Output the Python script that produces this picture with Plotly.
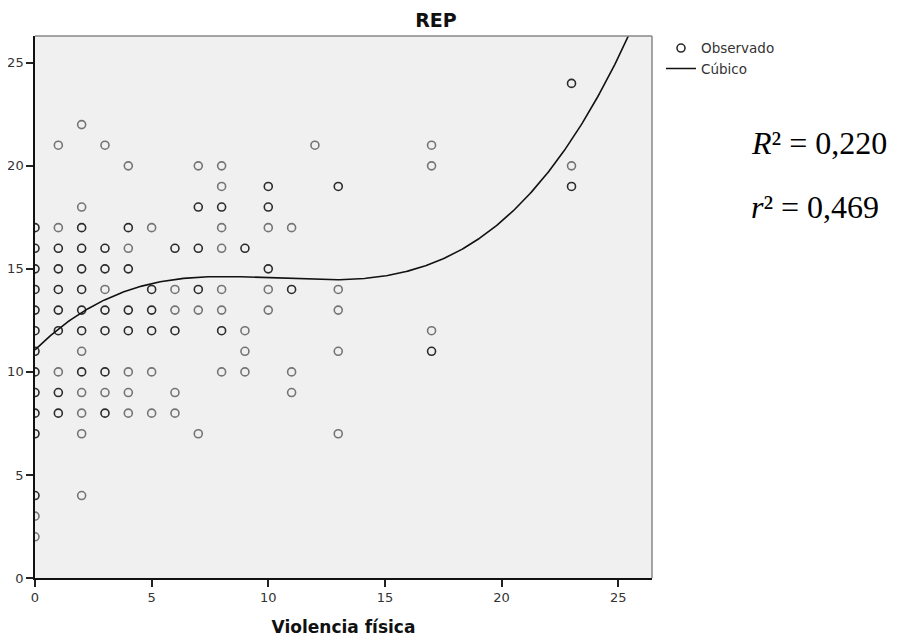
import numpy as np
import plotly.graph_objects as go

# Observed points (Violencia física, REP); n = overlap weight (darker when >1)
x_obs = [23,
         2,
         1, 3, 12, 17,
         4, 7, 8, 17, 23,
         8, 10, 13, 23,
         2, 7, 8, 10,
         0, 1, 2, 4, 5, 8, 10, 11,
         0, 1, 2, 3, 4, 6, 7, 8, 9,
         0, 1, 2, 3, 4, 10,
         0, 1, 2, 3, 5, 6, 7, 8, 10, 11, 13,
         0, 1, 2, 3, 4, 5, 6, 7, 8, 10, 13,
         0, 1, 2, 3, 4, 5, 6, 8, 9, 17,
         0, 2, 9, 13, 17,
         0, 1, 2, 3, 4, 5, 8, 9, 11,
         0, 1, 2, 3, 4, 6, 11,
         0, 1, 2, 3, 4, 5, 6,
         0, 2, 7, 13,
         0, 2,
         0,
         0]
y_obs = [24,
         22,
         21, 21, 21, 21,
         20, 20, 20, 20, 20,
         19, 19, 19, 19,
         18, 18, 18, 18,
         17, 17, 17, 17, 17, 17, 17, 17,
         16, 16, 16, 16, 16, 16, 16, 16, 16,
         15, 15, 15, 15, 15, 15,
         14, 14, 14, 14, 14, 14, 14, 14, 14, 14, 14,
         13, 13, 13, 13, 13, 13, 13, 13, 13, 13, 13,
         12, 12, 12, 12, 12, 12, 12, 12, 12, 12,
         11, 11, 11, 11, 11,
         10, 10, 10, 10, 10, 10, 10, 10, 10,
         9, 9, 9, 9, 9, 9, 9,
         8, 8, 8, 8, 8, 8, 8,
         7, 7, 7, 7,
         4, 4,
         3,
         2]
n_obs = [2,
         1,
         1, 1, 1, 1,
         1, 1, 1, 1, 1,
         1, 2, 2, 2,
         1, 2, 2, 2,
         2, 1, 2, 2, 1, 1, 1, 1,
         2, 2, 2, 2, 1, 2, 2, 1, 2,
         2, 2, 2, 2, 2, 2,
         2, 2, 2, 1, 2, 1, 2, 1, 1, 2, 1,
         2, 2, 2, 2, 2, 2, 1, 1, 1, 1, 1,
         2, 2, 2, 2, 2, 2, 2, 2, 1, 1,
         2, 1, 1, 1, 2,
         2, 1, 2, 2, 1, 1, 1, 1, 1,
         2, 2, 1, 1, 1, 1, 1,
         2, 2, 1, 2, 1, 1, 1,
         2, 1, 1, 1,
         2, 1,
         1,
         1]

# Cubic fit coefficients (b0, b1, b2, b3)
cubic_coef = [11.07, 1.11877, -0.11347, 0.0036561]

x_ticks = [0, 5, 10, 15, 20, 25]
y_ticks = [0, 5, 10, 15, 20, 25]
stats_text = ["<i>R</i>² = 0,220", "<i>r</i>² = 0,469"]

X_MAX = 26.45
Y_MAX = 26.3

colors = ["#2a2a2a" if n > 1 else "#747474" for n in n_obs]

xc = np.linspace(0, X_MAX, 400)
yc = sum(c * xc ** i for i, c in enumerate(cubic_coef))

fig = go.Figure()
fig.add_trace(go.Scatter(
    x=x_obs, y=y_obs, mode="markers", name="Observado",
    marker=dict(symbol="circle-open", size=8, color=colors,
                line=dict(width=1.6)),
    cliponaxis=True,
))
fig.add_trace(go.Scatter(
    x=xc, y=yc, mode="lines", name="Cúbico",
    line=dict(color="#111111", width=1.6),
))

font_sans = "DejaVu Sans, Liberation Sans, sans-serif"

# page body has an 8px margin: figure is shifted, so sizes/margins compensate
W, H, OFF = 905, 641, 8
fig.update_layout(
    width=W - OFF, height=H - OFF,
    margin=dict(l=35 - OFF, r=253, t=36 - OFF, b=63, autoexpand=False),
    paper_bgcolor="white", plot_bgcolor="#F0F0F0",
    font=dict(family=font_sans, color="#222222", size=13),
    showlegend=True,
    legend=dict(x=1 + (661 - 652) / 617, y=1.006, xanchor="left", yanchor="top",
                font=dict(size=13.5, color="#333333"), itemwidth=30,
                bgcolor="rgba(0,0,0,0)", tracegroupgap=0),
    xaxis=dict(range=[0, X_MAX], tickvals=x_ticks, showgrid=False, zeroline=False,
               automargin=False,
               ticks="outside", ticklen=7, tickcolor="#222", tickwidth=1.5,
               showline=True, linecolor="#111", linewidth=1.5,
               tickfont=dict(size=13, color="#333"),
               title=dict(text="<b>Violencia física</b>", font=dict(size=17, color="#111"),
                          standoff=17)),
    yaxis=dict(range=[0, Y_MAX], tickvals=y_ticks, showgrid=False, zeroline=False,
               automargin=False,
               ticks="outside", ticklen=7, tickcolor="#222", tickwidth=1.5,
               showline=True, linecolor="#111", linewidth=1.5,
               tickfont=dict(size=13, color="#333")),
    title=dict(text="<b>REP</b>", x=(436 - OFF) / (W - OFF), xanchor="center",
               y=1 - (20 - OFF) / (H - OFF),
               yanchor="middle", font=dict(size=19, color="#111")),
)

# gray frame on top/right
fig.add_shape(type="line", xref="paper", yref="paper", x0=0, x1=1, y0=1, y1=1,
              line=dict(color="#888888", width=1.5))
fig.add_shape(type="line", xref="paper", yref="paper", x0=1, x1=1, y0=0, y1=1,
              line=dict(color="#888888", width=1.5))

for i, t in enumerate(stats_text):
    fig.add_annotation(text=t, xref="paper", yref="paper",
                       x=1.157, y=[0.8026, 0.6845][i], xanchor="left", yanchor="middle",
                       showarrow=False,
                       font=dict(family="Liberation Serif, DejaVu Serif, serif", size=32,
                                 color="#000"))

fig.write_html("out.html")
